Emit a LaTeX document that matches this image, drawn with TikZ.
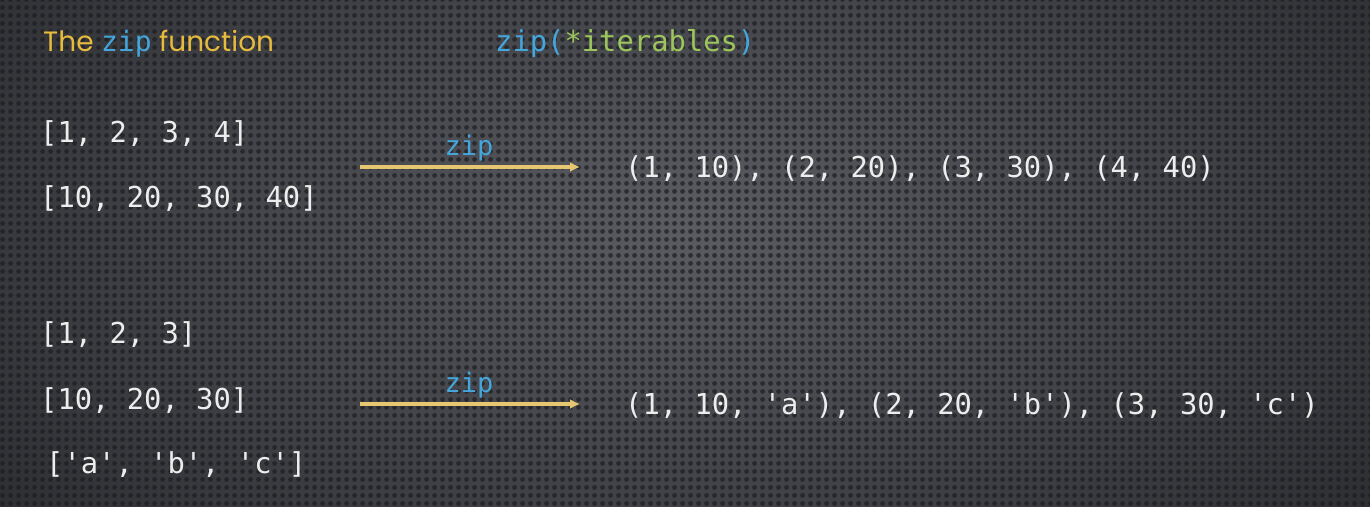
\documentclass[tikz,border=0pt]{standalone}
\usepackage{fontspec}
\usetikzlibrary{arrows.meta,patterns.meta}
\newfontfamily\codefont{DejaVu Sans Mono}
\newfontfamily\titlefont{Poppins}
\definecolor{bgedge}{HTML}{2D2E32}
\definecolor{bgmid}{HTML}{5A5C62}
\definecolor{dotcol}{HTML}{1C1D20}
\definecolor{txt}{HTML}{EDEDED}
\definecolor{ttlyellow}{HTML}{E6BB3E}
\definecolor{pyblue}{HTML}{45A6DC}
\definecolor{pygreen}{HTML}{9CC55C}
\definecolor{arrowyellow}{HTML}{E6C670}
\pgfdeclarepattern{name=bgdots,type=uncolored,
  bottom left={\pgfpoint{0pt}{0pt}},top right={\pgfpoint{8pt}{8pt}},
  tile size={\pgfpoint{8pt}{8pt}},
  code={\pgfpathcircle{\pgfpoint{4pt}{4pt}}{2.7pt}\pgfusepath{fill}}}
\tikzset{
  codetext/.style={anchor=base west,inner sep=0pt,text=txt,font=\codefont\fontsize{28.8}{34}\selectfont},
  ziplabel/.style={anchor=base,inner sep=0pt,text=pyblue,font=\codefont\fontsize{27}{32}\selectfont},
  ziparrow/.style={draw=arrowyellow,line width=3.2pt,-{Latex[length=10pt,width=10pt]}},
}
\begin{document}
\begin{tikzpicture}[x=1pt,y=-1pt]
\useasboundingbox (0,0) rectangle (1370,506);
\shade[inner color=bgmid,outer color=bgedge] (-200,-250) rectangle (1570,700);
\fill[pattern=bgdots,pattern color=dotcol,fill opacity=0.7] (0,0) rectangle (1370,506);
% titles
\node[anchor=base west,inner sep=0pt] (title) at (43,51)
  {\titlefont\fontsize{28}{32}\selectfont\color{ttlyellow}The {\codefont\color{pyblue}zip} function};
\node[anchor=base west,inner sep=0pt] (sig) at (495,51)
  {\codefont\fontsize{28.8}{34}\selectfont\color{pyblue}zip(\textcolor{pygreen}{*iterables})};
% first example
\node[codetext] (l1a) at (40,142) {[1, 2, 3, 4]};
\node[codetext] (l1b) at (40,207) {[10, 20, 30, 40]};
\coordinate (a1s) at (360,167);
\coordinate (a1e) at (580,167);
\draw[ziparrow] (a1s) -- (a1e);
\node[ziplabel] (z1) at (469,155) {zip};
\node[codetext] (r1) at (625,177) {(1, 10), (2, 20), (3, 30), (4, 40)};
% second example
\node[codetext] (l2a) at (40,343) {[1, 2, 3]};
\node[codetext] (l2b) at (40,409) {[10, 20, 30]};
\node[codetext] (l2c) at (46,473) {['a', 'b', 'c']};
\coordinate (a2s) at (360,404);
\coordinate (a2e) at (580,404);
\draw[ziparrow] (a2s) -- (a2e);
\node[ziplabel] (z2) at (469,392) {zip};
\node[codetext] (r2) at (625,414) {(1, 10, 'a'), (2, 20, 'b'), (3, 30, 'c')};
\end{tikzpicture}
\end{document}
